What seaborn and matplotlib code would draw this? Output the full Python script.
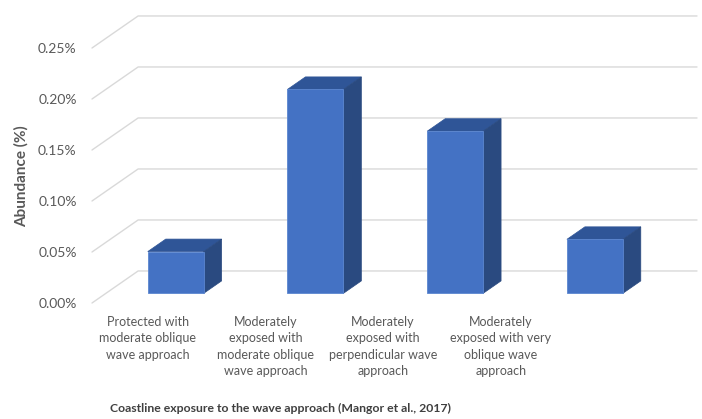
import matplotlib
matplotlib.use("Agg")
import matplotlib.pyplot as plt
import seaborn as sns
import pandas as pd
from matplotlib.patches import Polygon

# ── data ─────────────────────────────────────────────────────────────
categories = [
    "Protected with\nmoderate oblique\nwave approach",
    "Moderately\nexposed with\nmoderate oblique\nwave approach",
    "Moderately\nexposed with\nperpendicular wave\napproach",
    "Moderately\nexposed with very\noblique wave\napproach",
]
abundance = [0.041, 0.200, 0.159, 0.053]  # percent
y_ticks = [0.00, 0.05, 0.10, 0.15, 0.20, 0.25]

# ── style ────────────────────────────────────────────────────────────
FRONT = "#4472C4"
TOP = "#2F5597"
SIDE = "#2A4A80"
GRID = "#D9D9D9"
TEXT = "#595959"

# pseudo-3D geometry (oblique projection, in data units)
dx, dy = 0.33, 0.0314        # offset of the back wall
d_front, d_back = 0.30, 0.69  # bar depth span as fraction of floor depth
bar_w = 0.4
label_x0, label_step = -0.1, 0.842  # Excel squeezes the category labels

sns.set_theme(style="white")
plt.rcParams["font.family"] = ["Lato", "DejaVu Sans"]

W, H = 702, 419
fig = plt.figure(figsize=(W / 100, H / 100), dpi=100)
y_top = y_ticks[-1] + dy
ax = fig.add_axes([92 / W, (H - 303) / H, (697 - 92) / W, y_top * 1020 / H])

n = len(categories)
x_left, x_right = -0.5, n - 0.5

# wall gridlines: left side wall diagonal + back wall horizontal
for v in y_ticks:
    ax.plot([x_left, x_left + dx, x_right + dx], [v, v + dy, v + dy],
            color=GRID, lw=1.0, zorder=0, clip_on=False)

df = pd.DataFrame({"category": categories, "abundance": abundance})
sns.barplot(data=df, x="category", y="abundance", color=FRONT, saturation=1,
            width=bar_w, ax=ax, zorder=3, edgecolor="#5B86D0", linewidth=0.6)

# shift front faces into the floor depth and add top / side faces
ddx, ddy = (d_back - d_front) * dx, (d_back - d_front) * dy
for p in list(ax.patches):
    x0 = p.get_x() + d_front * dx
    y0 = d_front * dy
    w, h = p.get_width(), p.get_height()
    p.set_x(x0)
    p.set_y(y0)
    top = Polygon([(x0, y0 + h), (x0 + w, y0 + h),
                   (x0 + w + ddx, y0 + h + ddy), (x0 + ddx, y0 + h + ddy)],
                  closed=True, fc=TOP, ec=TOP, lw=0.5, zorder=2)
    side = Polygon([(x0 + w, y0), (x0 + w + ddx, y0 + ddy),
                    (x0 + w + ddx, y0 + h + ddy), (x0 + w, y0 + h)],
                   closed=True, fc=SIDE, ec=SIDE, lw=0.5, zorder=2)
    ax.add_patch(top)
    ax.add_patch(side)

ax.set_xlim(x_left, x_right + dx)
ax.set_ylim(0, y_top)
ax.set_yticks(y_ticks, [f"{v:.2f}%" for v in y_ticks])
ax.set_xticks([label_x0 + i * label_step for i in range(n)], categories)
ax.tick_params(axis="y", length=0, pad=11, labelsize=10, labelcolor=TEXT)
ax.tick_params(axis="x", length=0, pad=9, labelsize=9, labelcolor=TEXT)
for t in ax.get_xticklabels():
    t.set_linespacing(1.45)
ax.set_xlabel("")
ax.set_ylabel("")
sns.despine(ax=ax, left=True, bottom=True)
ax.patch.set_alpha(0)

fig.text(21 / W, 1 - 176 / H, "Abundance (%)", rotation=90, ha="center",
         va="center", fontsize=11, fontweight="bold", color=TEXT)
fig.text(281 / W, 1 - 408 / H,
         "Coastline exposure to the wave approach (Mangor et al., 2017)",
         ha="center", va="center", fontsize=8.8, fontweight="bold", color="#404040")

fig.savefig("out.png", dpi=100)
